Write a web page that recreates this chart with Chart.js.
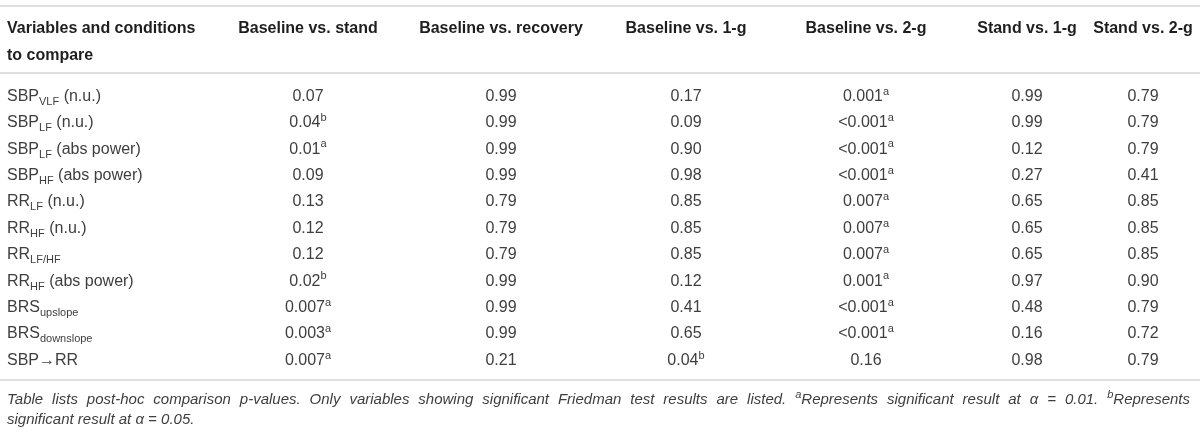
<!DOCTYPE html>
<html>
<head>
<meta charset="utf-8">
<script src="https://cdn.jsdelivr.net/npm/chart.js@4.4.1/dist/chart.umd.min.js"></script>
<style>
  html, body { margin: 0; padding: 0; background: #ffffff; }
  #wrap { width: 1200px; height: 435px; }
</style>
</head>
<body>
<div id="wrap"><canvas id="c" width="1200" height="435"></canvas></div>
<script>
// ---------------- DATA ----------------
const firstHeader = ['Variables and conditions', 'to compare'];
const columnHeaders = ['Baseline vs. stand', 'Baseline vs. recovery', 'Baseline vs. 1-g',
                       'Baseline vs. 2-g', 'Stand vs. 1-g', 'Stand vs. 2-g'];
// "_{...}" marks a subscript
const rowLabels = ['SBP_{VLF} (n.u.)', 'SBP_{LF} (n.u.)', 'SBP_{LF} (abs power)', 'SBP_{HF} (abs power)',
                   'RR_{LF} (n.u.)', 'RR_{HF} (n.u.)', 'RR_{LF/HF}', 'RR_{HF} (abs power)',
                   'BRS_{upslope}', 'BRS_{downslope}', 'SBP\u2192RR'];
// "^a" / "^b" marks significance superscript
const baselineVsStand    = ['0.07', '0.04^b', '0.01^a', '0.09', '0.13', '0.12', '0.12', '0.02^b', '0.007^a', '0.003^a', '0.007^a'];
const baselineVsRecovery = ['0.99', '0.99', '0.99', '0.99', '0.79', '0.79', '0.79', '0.99', '0.99', '0.99', '0.21'];
const baselineVs1g       = ['0.17', '0.09', '0.90', '0.98', '0.85', '0.85', '0.85', '0.12', '0.41', '0.65', '0.04^b'];
const baselineVs2g       = ['0.001^a', '<0.001^a', '<0.001^a', '<0.001^a', '0.007^a', '0.007^a', '0.007^a', '0.001^a', '<0.001^a', '<0.001^a', '0.16'];
const standVs1g          = ['0.99', '0.99', '0.12', '0.27', '0.65', '0.65', '0.65', '0.97', '0.48', '0.16', '0.98'];
const standVs2g          = ['0.79', '0.79', '0.79', '0.41', '0.85', '0.85', '0.85', '0.90', '0.79', '0.72', '0.79'];
const footnoteLines = [
  'Table lists post-hoc comparison p-values. Only variables showing significant Friedman test results are listed. ^aRepresents significant result at \u03b1 = 0.01. ^bRepresents',
  'significant result at \u03b1 = 0.05.'
];

// ---------------- LAYOUT ----------------
const columnValues = [baselineVsStand, baselineVsRecovery, baselineVs1g, baselineVs2g, standVs1g, standVs2g];
const LAYOUT = {
  colCenter: [308, 501, 686, 866, 1027, 1143],
  labelX: 7,
  rightX: 1190,
  topRule: 6, midRule: 73, bottomRule: 380,
  headerBase: [33, 60],
  footBase: [404, 424],
  ruleColor: '#d4d4d4',
  family: '"Liberation Sans", Arial, Helvetica, sans-serif'
};
const FONT = (size, weight, style) => `${style || 'normal'} ${weight || 'normal'} ${size}px ${LAYOUT.family}`;

// parse "_{x}" and "^x" into segments
function parseRich(str) {
  const segs = [];
  let i = 0, buf = '';
  while (i < str.length) {
    if (str[i] === '_' && str[i + 1] === '{') {
      if (buf) { segs.push({ t: buf, k: 'n' }); buf = ''; }
      const end = str.indexOf('}', i);
      segs.push({ t: str.slice(i + 2, end), k: 'sub' });
      i = end + 1;
    } else if (str[i] === '^') {
      if (buf) { segs.push({ t: buf, k: 'n' }); buf = ''; }
      segs.push({ t: str[i + 1], k: 'sup' });
      i += 2;
    } else { buf += str[i]; i++; }
  }
  if (buf) segs.push({ t: buf, k: 'n' });
  return segs;
}
function segFont(k, size, weight, style) {
  return k === 'n' ? FONT(size, weight, style) : FONT(Math.round(size * 0.7), weight, style);
}
function richWidth(ctx, segs, size, weight, style) {
  let w = 0;
  segs.forEach(s => { ctx.font = segFont(s.k, size, weight, style); w += ctx.measureText(s.t).width; });
  return w;
}
function drawRich(ctx, segs, x, y, size, weight, style, color) {
  ctx.fillStyle = color;
  ctx.textBaseline = 'alphabetic';
  ctx.textAlign = 'left';
  segs.forEach(s => {
    ctx.font = segFont(s.k, size, weight, style);
    const dy = s.k === 'sub' ? size * 0.25 : (s.k === 'sup' ? -size * 0.38 : 0);
    ctx.fillText(s.t, x, y + dy);
    x += ctx.measureText(s.t).width;
  });
  return x;
}

const tablePlugin = {
  id: 'tablePlugin',
  afterDatasetsDraw(chart) {
    const ctx = chart.ctx;
    const yScale = chart.scales.y;
    ctx.save();
    // rules
    ctx.strokeStyle = LAYOUT.ruleColor;
    ctx.lineWidth = 1.5;
    [LAYOUT.topRule, LAYOUT.midRule, LAYOUT.bottomRule].forEach(y => {
      ctx.beginPath(); ctx.moveTo(0, y); ctx.lineTo(1200, y); ctx.stroke();
    });
    // header
    const hColor = '#1e1e1e';
    drawRich(ctx, [{ t: firstHeader[0], k: 'n' }], LAYOUT.labelX, LAYOUT.headerBase[0], 16, 'bold', 'normal', hColor);
    drawRich(ctx, [{ t: firstHeader[1], k: 'n' }], LAYOUT.labelX, LAYOUT.headerBase[1], 16, 'bold', 'normal', hColor);
    chart.data.datasets.forEach((ds, di) => {
      const meta = chart.getDatasetMeta(di);
      const cx = meta.data[0].x;
      const segs = [{ t: ds.label, k: 'n' }];
      const w = richWidth(ctx, segs, 16, 'bold');
      drawRich(ctx, segs, cx - w / 2, LAYOUT.headerBase[0], 16, 'bold', 'normal', hColor);
    });
    // row labels
    const bColor = '#3e3e3e';
    rowLabels.forEach((lab, i) => {
      const y = yScale.getPixelForValue(i) + 5.7;
      drawRich(ctx, parseRich(lab), LAYOUT.labelX, y, 16, 'normal', 'normal', bColor);
    });
    // cells
    chart.data.datasets.forEach((ds, di) => {
      const meta = chart.getDatasetMeta(di);
      meta.data.forEach((pt, i) => {
        const segs = parseRich(ds.cellText[i]);
        const w = richWidth(ctx, segs, 16, 'normal');
        drawRich(ctx, segs, pt.x - w / 2, pt.y + 5.7, 16, 'normal', 'normal', bColor);
      });
    });
    // footnote
    const fColor = '#3e3e3e';
    const fSize = 15;
    footnoteLines.forEach((line, li) => {
      const words = line.split(' ').map(parseRich);
      const y = LAYOUT.footBase[li];
      if (li === footnoteLines.length - 1) {
        drawRich(ctx, parseRich(line), LAYOUT.labelX, y, fSize, 'normal', 'italic', fColor);
        return;
      }
      const widths = words.map(ws => richWidth(ctx, ws, fSize, 'normal', 'italic'));
      const total = widths.reduce((a, b) => a + b, 0);
      const gap = (LAYOUT.rightX - LAYOUT.labelX - total) / (words.length - 1);
      let x = LAYOUT.labelX;
      words.forEach((ws, wi) => {
        drawRich(ctx, ws, x, y, fSize, 'normal', 'italic', fColor);
        x += widths[wi] + gap;
      });
    });
    ctx.restore();
  }
};

const datasets = columnHeaders.map((h, c) => ({
  label: h,
  cellText: columnValues[c],
  data: columnValues[c].map((v, i) => ({ x: LAYOUT.colCenter[c], y: i })),
  pointRadius: 0,
  showLine: false
}));

new Chart(document.getElementById('c'), {
  type: 'scatter',
  data: { datasets },
  options: {
    responsive: false,
    animation: false,
    devicePixelRatio: 1,
    layout: { padding: { left: 0, right: 0, top: 81.8, bottom: 62.8 } },
    plugins: { legend: { display: false }, tooltip: { enabled: false } },
    scales: {
      x: { type: 'linear', min: 0, max: 1200, display: false },
      y: { type: 'linear', min: -0.5, max: rowLabels.length - 0.5, reverse: true, display: false }
    }
  },
  plugins: [tablePlugin]
});
</script>
</body>
</html>
